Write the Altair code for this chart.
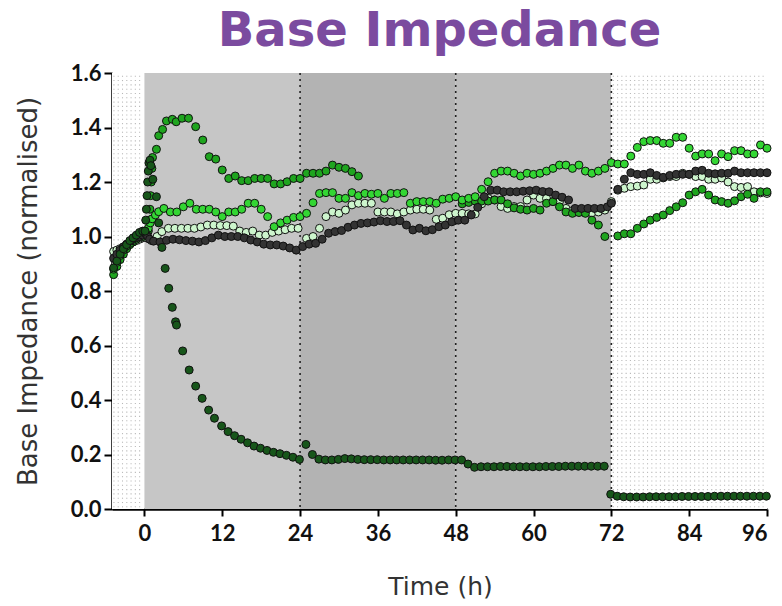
import altair as alt
import numpy as np
import pandas as pd

# ---------------- data ----------------
TIME_TICKS = [0, 12, 24, 36, 48, 60, 72, 84, 96]
Y_TICKS = [0.0, 0.2, 0.4, 0.6, 0.8, 1.0, 1.2, 1.4, 1.6]

SERIES = ["pale", "medium", "bright", "grey", "dark"]
COLORS = ["#cdf5cd", "#1fa51f", "#33d633", "#333333", "#17561a"]

PRE_T = [-4.75, -4.25, -3.75, -3.25, -2.75, -2.25, -1.75, -1.25, -0.75, -0.25]

# pale green series
PALE_PRE = [0.945, 0.95, 0.955, 0.96, 0.97, 0.975, 0.98, 0.985, 0.99, 0.995]
PALE_EARLY_T = [0.3, 1.1, 1.95]
PALE_EARLY_V = [0.995, 0.985, 1.0]
PALE_A = [1.018, 1.03, 1.03, 1.03, 1.03, 1.03, 1.035, 1.042, 1.042, 1.04, 1.04, 1.038,
          1.02, 1.015, 1.02, 1.005, 1.005, 1.015, 1.02, 1.025, 1.03, 1.03]          # from 2.7 h
PALE_B = [0.993, 1.0, 1.03, 1.073, 1.09, 1.085, 1.097, 1.116, 1.122, 1.122, 1.122, 1.09,
          1.09, 1.09, 1.083, 1.09, 1.097, 1.1, 1.1, 1.097, 1.063, 1.067, 1.08, 1.085]  # from 25 h
PALE_C = [1.085, 1.083, 1.083, 1.12, 1.14, 1.134, 1.11, 1.103, 1.11, 1.11, 1.134, 1.152,
          1.14, 1.14, 1.128, 1.128, 1.103, 1.095, 1.09, 1.087, 1.087, 1.09, 1.097, 1.128]  # from 49 h
PALE_D = [1.17, 1.177, 1.183, 1.185, 1.189, 1.21, 1.21, 1.215, 1.22, 1.22, 1.232, 1.228,
          1.22, 1.22, 1.21, 1.21, 1.215, 1.2, 1.183, 1.18, 1.183, 1.164, 1.16, 1.158]  # from 73 h

# medium green series (the one with the early peak)
MED_PRE = [0.86, 0.89, 0.915, 0.935, 0.955, 0.97, 0.98, 0.99, 1.0, 1.0]
MED_EARLY_T = [0.6, 0.75, 0.85, 0.95, 1.05, 1.15, 1.25, 1.85, 2.2, 2.8, 3.4, 4.3, 4.9, 5.8, 6.8, 7.9]
MED_EARLY_V = [1.02, 1.06, 1.1, 1.15, 1.2, 1.25, 1.29, 1.32, 1.37, 1.393, 1.424, 1.43, 1.421,
               1.434, 1.434, 1.403]
MED_A = [1.354, 1.293, 1.284, 1.244, 1.213, 1.222, 1.205, 1.205, 1.213, 1.213, 1.213, 1.193,
         1.193, 1.201, 1.213, 1.213, 1.232, 1.232, 1.232, 1.24, 1.262, 1.254, 1.25, 1.238, 1.222]  # from 9 h
MED_B = [1.12, 1.125, 1.13, 1.13, 1.13, 1.134, 1.134, 1.12, 1.105, 1.1, 1.097, 1.103, 1.097,
         1.122, 1.128, 1.109, 1.09, 1.085, 1.088, 1.085, 1.06, 1.042, 1.0]  # from 49 h
MED_C = [1.002, 1.01, 1.01, 1.03, 1.046, 1.06, 1.07, 1.079, 1.095, 1.109, 1.124, 1.152, 1.164,
         1.173, 1.152, 1.134, 1.128, 1.122, 1.131, 1.146, 1.155, 1.14, 1.164, 1.164]  # from 73 h

# bright green series
BRI_PRE = [0.88, 0.905, 0.93, 0.95, 0.965, 0.975, 0.985, 0.99, 1.0, 1.0]
BRI_EARLY_T = [0.3, 0.6, 0.9, 1.2, 1.7, 2.2]
BRI_EARLY_V = [1.01, 1.03, 1.05, 1.065, 1.079, 1.091]
BRI_A = [1.103, 1.09, 1.09, 1.109, 1.122, 1.1, 1.1, 1.1, 1.09, 1.073, 1.09, 1.09, 1.1, 1.122,
         1.122, 1.1, 1.073, 1.036, 1.05, 1.06, 1.07, 1.073]  # from 3 h
BRI_B = [1.085, 1.124, 1.158, 1.161, 1.161, 1.14, 1.14, 1.161, 1.15, 1.158, 1.155, 1.158, 1.14,
         1.158, 1.158, 1.161, 1.122, 1.128, 1.128, 1.128, 1.122, 1.137, 1.14, 1.146]  # from 25 h
BRI_C = [1.134, 1.14, 1.146, 1.173, 1.201, 1.232, 1.24, 1.24, 1.232, 1.222, 1.232, 1.228, 1.232,
         1.24, 1.25, 1.262, 1.262, 1.25, 1.262, 1.24, 1.232, 1.24, 1.25, 1.271]  # from 49 h
BRI_D = [1.266, 1.266, 1.295, 1.327, 1.348, 1.352, 1.352, 1.342, 1.342, 1.364, 1.364, 1.324,
         1.295, 1.303, 1.303, 1.278, 1.303, 1.293, 1.315, 1.315, 1.303, 1.303, 1.336, 1.324]  # from 73 h

# dark grey series
GRY_PRE = [0.92, 0.935, 0.95, 0.962, 0.972, 0.982, 0.99, 0.995, 1.0, 1.005]
GRY_EARLY_T = [0.2, 0.5, 0.8]
GRY_EARLY_V = [1.01, 1.0, 0.99]
GRY_A = [0.983, 0.98, 0.986, 0.99, 0.988, 0.985, 0.983, 0.98, 0.985, 0.995, 1.005, 1.0, 1.0,
         1.0, 0.995, 0.987, 0.98, 0.972, 0.969, 0.969, 0.965, 0.958, 0.95]  # from 1.4 h
GRY_B = [0.963, 0.972, 0.975, 0.99, 1.012, 1.018, 1.022, 1.034, 1.042, 1.048, 1.05, 1.053,
         1.058, 1.055, 1.055, 1.058, 1.042, 1.024, 1.03, 1.021, 1.025, 1.036, 1.042, 1.054]  # from 24.4 h
GRY_C = [1.06, 1.06, 1.079, 1.107, 1.146, 1.17, 1.17, 1.164, 1.164, 1.164, 1.166, 1.168, 1.17,
         1.165, 1.164, 1.152, 1.144, 1.134, 1.103, 1.103, 1.103, 1.103, 1.103, 1.109]  # from 48.4 h
GRY_D = [1.122, 1.173, 1.21, 1.234, 1.228, 1.228, 1.234, 1.224, 1.217, 1.224, 1.228, 1.228,
         1.228, 1.24, 1.243, 1.232, 1.23, 1.232, 1.232, 1.24, 1.234, 1.234, 1.234, 1.234, 1.234]  # from 72 h

# dark green series
DRK_PRE = [0.885, 0.91, 0.935, 0.955, 0.97, 0.985, 0.995, 1.005, 1.015, 1.02]
DRK_EARLY_T = [0.1, 0.2, 0.3, 0.4, 0.5, 0.6, 0.7, 0.85, 1.0, 1.3, 1.85, 2.2, 2.7, 3.2, 3.75,
               4.3, 4.8, 4.95, 5.9, 6.9, 7.9, 8.9, 9.9, 10.8]
DRK_EARLY_V = [1.02, 1.06, 1.1, 1.15, 1.2, 1.24, 1.27, 1.28, 1.26, 1.21, 1.146, 1.05, 0.96,
               0.883, 0.81, 0.74, 0.687, 0.675, 0.58, 0.51, 0.451, 0.406, 0.363, 0.333]
DRK_A = [0.305, 0.284, 0.269, 0.256, 0.243, 0.231, 0.223, 0.215, 0.208, 0.203, 0.197, 0.19,
         0.182]  # from 11.9 h
DRK_B = [0.237, 0.2, 0.183, 0.18, 0.18, 0.182, 0.185, 0.184, 0.182, 0.181, 0.181, 0.181, 0.18,
         0.18, 0.18, 0.18, 0.18, 0.18, 0.18, 0.18, 0.179, 0.179, 0.18, 0.18, 0.18]  # from 24.9 h
DRK_C = [0.165, 0.153, 0.155, 0.155, 0.155, 0.156, 0.156, 0.155, 0.155, 0.155, 0.155, 0.155,
         0.156, 0.156, 0.156, 0.157, 0.157, 0.157, 0.157, 0.157, 0.157, 0.157]  # from 49.9 h
DRK_D = [0.054, 0.047, 0.045, 0.044, 0.044, 0.044, 0.045, 0.045, 0.045, 0.045, 0.045, 0.046,
         0.046, 0.046, 0.046, 0.046, 0.047, 0.047, 0.047, 0.047, 0.047, 0.047, 0.047, 0.047, 0.047]  # from 71.9 h

# background phases
PHASE_START = [-5, 0, 24, 48, 72]
PHASE_END = [0, 24, 48, 72, 96]
PHASE_FILL = ["#ffffff", "#c6c6c6", "#b3b3b3", "#bcbcbc", "#ffffff"]
DIVIDERS = [24, 48, 72]


# ---------------- assemble ----------------
def hourly(start, values):
    return [start + i for i in range(len(values))]


def segments(name, parts):
    rows = []
    for ts, vs in parts:
        for t, v in zip(ts, vs):
            rows.append({"series": name, "t": t, "v": v})
    return rows


rows = []
rows += segments("pale", [(PRE_T, PALE_PRE), (PALE_EARLY_T, PALE_EARLY_V),
                          (hourly(2.7, PALE_A), PALE_A), (hourly(25, PALE_B), PALE_B),
                          (hourly(49, PALE_C), PALE_C), (hourly(73, PALE_D), PALE_D)])
rows += segments("medium", [(PRE_T, MED_PRE), (MED_EARLY_T, MED_EARLY_V),
                            (hourly(9, MED_A), MED_A), (hourly(49, MED_B), MED_B),
                            (hourly(73, MED_C), MED_C)])
rows += segments("bright", [(PRE_T, BRI_PRE), (BRI_EARLY_T, BRI_EARLY_V),
                            (hourly(3, BRI_A), BRI_A), (hourly(25, BRI_B), BRI_B),
                            (hourly(49, BRI_C), BRI_C), (hourly(73, BRI_D), BRI_D)])
rows += segments("grey", [(PRE_T, GRY_PRE), (GRY_EARLY_T, GRY_EARLY_V),
                          (hourly(1.4, GRY_A), GRY_A), (hourly(24.4, GRY_B), GRY_B),
                          (hourly(48.4, GRY_C), GRY_C), (hourly(72, GRY_D), GRY_D)])
rows += segments("dark", [(PRE_T, DRK_PRE), (DRK_EARLY_T, DRK_EARLY_V),
                          (hourly(11.9, DRK_A), DRK_A), (hourly(24.9, DRK_B), DRK_B),
                          (hourly(49.9, DRK_C), DRK_C), (hourly(71.9, DRK_D), DRK_D)])
points_df = pd.DataFrame(rows)

phases_df = pd.DataFrame({"start": PHASE_START, "end": PHASE_END, "fill": PHASE_FILL,
                          "lo": [0.0] * 5, "hi": [1.6] * 5})
div_df = pd.DataFrame({"t": DIVIDERS})

# stipple texture for the white (dotted) phases
dot_rows = []
for a, b in [(-5, 0), (72, 96)]:
    for tx in np.arange(a + 0.3, b - 0.1, 0.66):
        for vy in np.arange(0.008, 1.595, 0.0158):
            dot_rows.append({"t": float(tx), "v": float(vy)})
dots_df = pd.DataFrame(dot_rows)

# ---------------- encodings ----------------
XSCALE = alt.Scale(domain=[-5, 96], nice=False, zero=False)
YSCALE = alt.Scale(domain=[0, 1.6], nice=False, zero=True)

LABEL_FONT = "Lato"

XAXIS = alt.Axis(values=TIME_TICKS, grid=False, domainColor="#000000", domainWidth=2.5,
                 tickColor="#000000", tickWidth=2, tickSize=7,
                 labelFont=LABEL_FONT, labelFontWeight="bold", labelFontSize=22,
                 labelColor="#111111", labelPadding=7,
                 titleFont="DejaVu Sans", titleFontSize=25, titleFontWeight="normal",
                 titleColor="#333333", titleX=328, titleY=77, titleAlign="center",
                 titleBaseline="middle")
YAXIS = alt.Axis(values=Y_TICKS, format=".1f", grid=False, domainColor="#000000",
                 domainWidth=2.5, tickColor="#000000", tickWidth=2, tickSize=8,
                 labelFont=LABEL_FONT, labelFontWeight="bold", labelFontSize=22,
                 labelColor="#111111", labelPadding=3,
                 titleFont="DejaVu Sans", titleFontSize=26, titleFontWeight="normal",
                 titleColor="#333333", titleX=-84, titleY=218, titleAngle=270,
                 titleAlign="center", titleBaseline="middle")


def xenc(field):
    return alt.X(f"{field}:Q", scale=XSCALE, axis=XAXIS, title="Time (h)")


def yenc(field):
    return alt.Y(f"{field}:Q", scale=YSCALE, axis=YAXIS, title="Base Impedance (normalised)")


bg = alt.Chart(phases_df).mark_rect().encode(
    x=xenc("start"), x2="end", y=yenc("lo"), y2="hi",
    color=alt.Color("fill:N", scale=None),
)

dots = alt.Chart(dots_df).mark_square(size=1.2, color="#b8b8b8", opacity=1).encode(
    x=xenc("t"), y=yenc("v"),
)

dividers = alt.Chart(div_df).mark_rule(color="#222222", strokeWidth=1.6,
                                       strokeDash=[2, 4]).encode(x=xenc("t"))

pts = alt.Chart(points_df).mark_circle(size=64, opacity=1, stroke="#111111",
                                       strokeWidth=1).encode(
    x=xenc("t"), y=yenc("v"),
    color=alt.Color("series:N", scale=alt.Scale(domain=SERIES, range=COLORS), legend=None),
)

chart = alt.layer(bg, dots, dividers, pts).properties(
    width=655, height=436,
    title=alt.TitleParams("Base Impedance", font="DejaVu Sans", fontSize=48, fontWeight="bold",
                          color="#7b4b9f", anchor="middle", offset=6),
    padding={"left": 112, "top": 73, "right": 15, "bottom": 97},
    autosize=alt.AutoSizeParams(type="none"),
    background="white",
).configure_view(stroke="transparent")

chart.save("out.html", embed_options={"renderer": "svg", "actions": False})
